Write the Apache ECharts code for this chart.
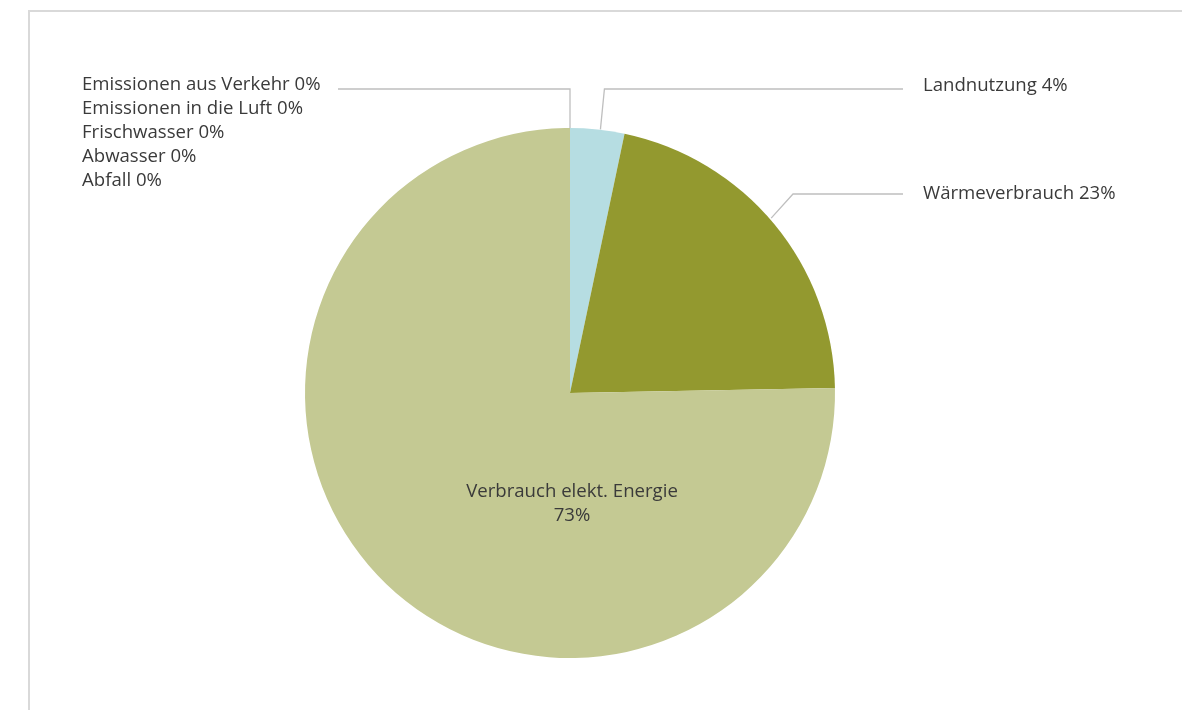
<!DOCTYPE html>
<html>
<head>
<meta charset="utf-8">
<script src="https://cdn.jsdelivr.net/npm/echarts@6/dist/echarts.min.js"></script>
<style>
html,body{margin:0;padding:0;background:#fff;}
#frame{position:absolute;left:28px;top:10px;width:1154px;height:700px;border-left:2px solid #d9d9d9;border-top:2px solid #d9d9d9;box-sizing:border-box;}
#chart{position:absolute;left:0;top:0;width:1182px;height:710px;}
</style>
</head>
<body>
<div id="frame"></div>
<div id="chart"></div>
<script>
const categories = [
  'Emissionen aus Verkehr',
  'Emissionen in die Luft',
  'Frischwasser',
  'Abwasser',
  'Abfall',
  'Landnutzung',
  'Wärmeverbrauch',
  'Verbrauch elekt. Energie'
];
const values = [0, 0, 0, 0, 0, 3.3, 21.4, 75.3];
const pctLabels = ['0%', '0%', '0%', '0%', '0%', '4%', '23%', '73%'];
const colors = ['#c4c993', '#c4c993', '#c4c993', '#c4c993', '#c4c993', '#b6dde2', '#93992f', '#c4c993'];

const chart = echarts.init(document.getElementById('chart'), null, {renderer: 'canvas'});

const data = categories.map((c, i) => {
  const item = {name: c, value: values[i], itemStyle: {color: colors[i]}};
  if (i >= 1 && i <= 4) item.labelLine = {show: false};
  if (i === 7) {
    item.label = {position: 'inside', align: 'center', lineHeight: 24};
    item.labelLine = {show: false};
  }
  return item;
});

const FONT = '"Open Sans", sans-serif';

chart.setOption({
  animation: false,
  series: [{
    type: 'pie',
    center: [570, 393],
    radius: 265,
    startAngle: 90,
    clockwise: true,
    avoidLabelOverlap: false,
    minShowLabelAngle: 0,
    data: data,
    itemStyle: {borderWidth: 0},
    label: {
      show: true,
      position: 'outside',
      color: '#3a3a3a',
      fontFamily: FONT,
      fontSize: 18.6,
      lineHeight: 24,
      formatter: p => {
        const i = p.dataIndex;
        return i === 7 ? categories[i] + '\n' + pctLabels[i] : categories[i] + ' ' + pctLabels[i];
      }
    },
    labelLine: {
      show: true,
      lineStyle: {color: '#bfbfbf', width: 1.3}
    },
    labelLayout: function (params) {
      const i = params.dataIndex;
      const pts = params.labelLinePoints;
      if (i <= 4) {
        const y = 85 + i * 24;
        const res = {x: 82, y: y, align: 'left', verticalAlign: 'middle'};
        if (i === 0 && pts) {
          const p0 = pts[0];
          res.labelLinePoints = [[p0[0], p0[1]], [p0[0], 89], [338, 89]];
        }
        return res;
      }
      if (i === 5) {
        const p0 = pts[0];
        return {x: 923, y: 86, align: 'left', verticalAlign: 'middle',
          labelLinePoints: [[p0[0] + 3, p0[1]], [p0[0] + 7, 89], [903, 89]]};
      }
      if (i === 6) {
        const p0 = pts[0];
        return {x: 923, y: 194, align: 'left', verticalAlign: 'middle',
          labelLinePoints: [[p0[0] - 3, p0[1] - 6], [793, 194], [903, 194]]};
      }
      if (i === 7) {
        return {x: 572, y: 504, align: 'center', verticalAlign: 'middle'};
      }
    }
  }]
});
</script>
</body>
</html>
